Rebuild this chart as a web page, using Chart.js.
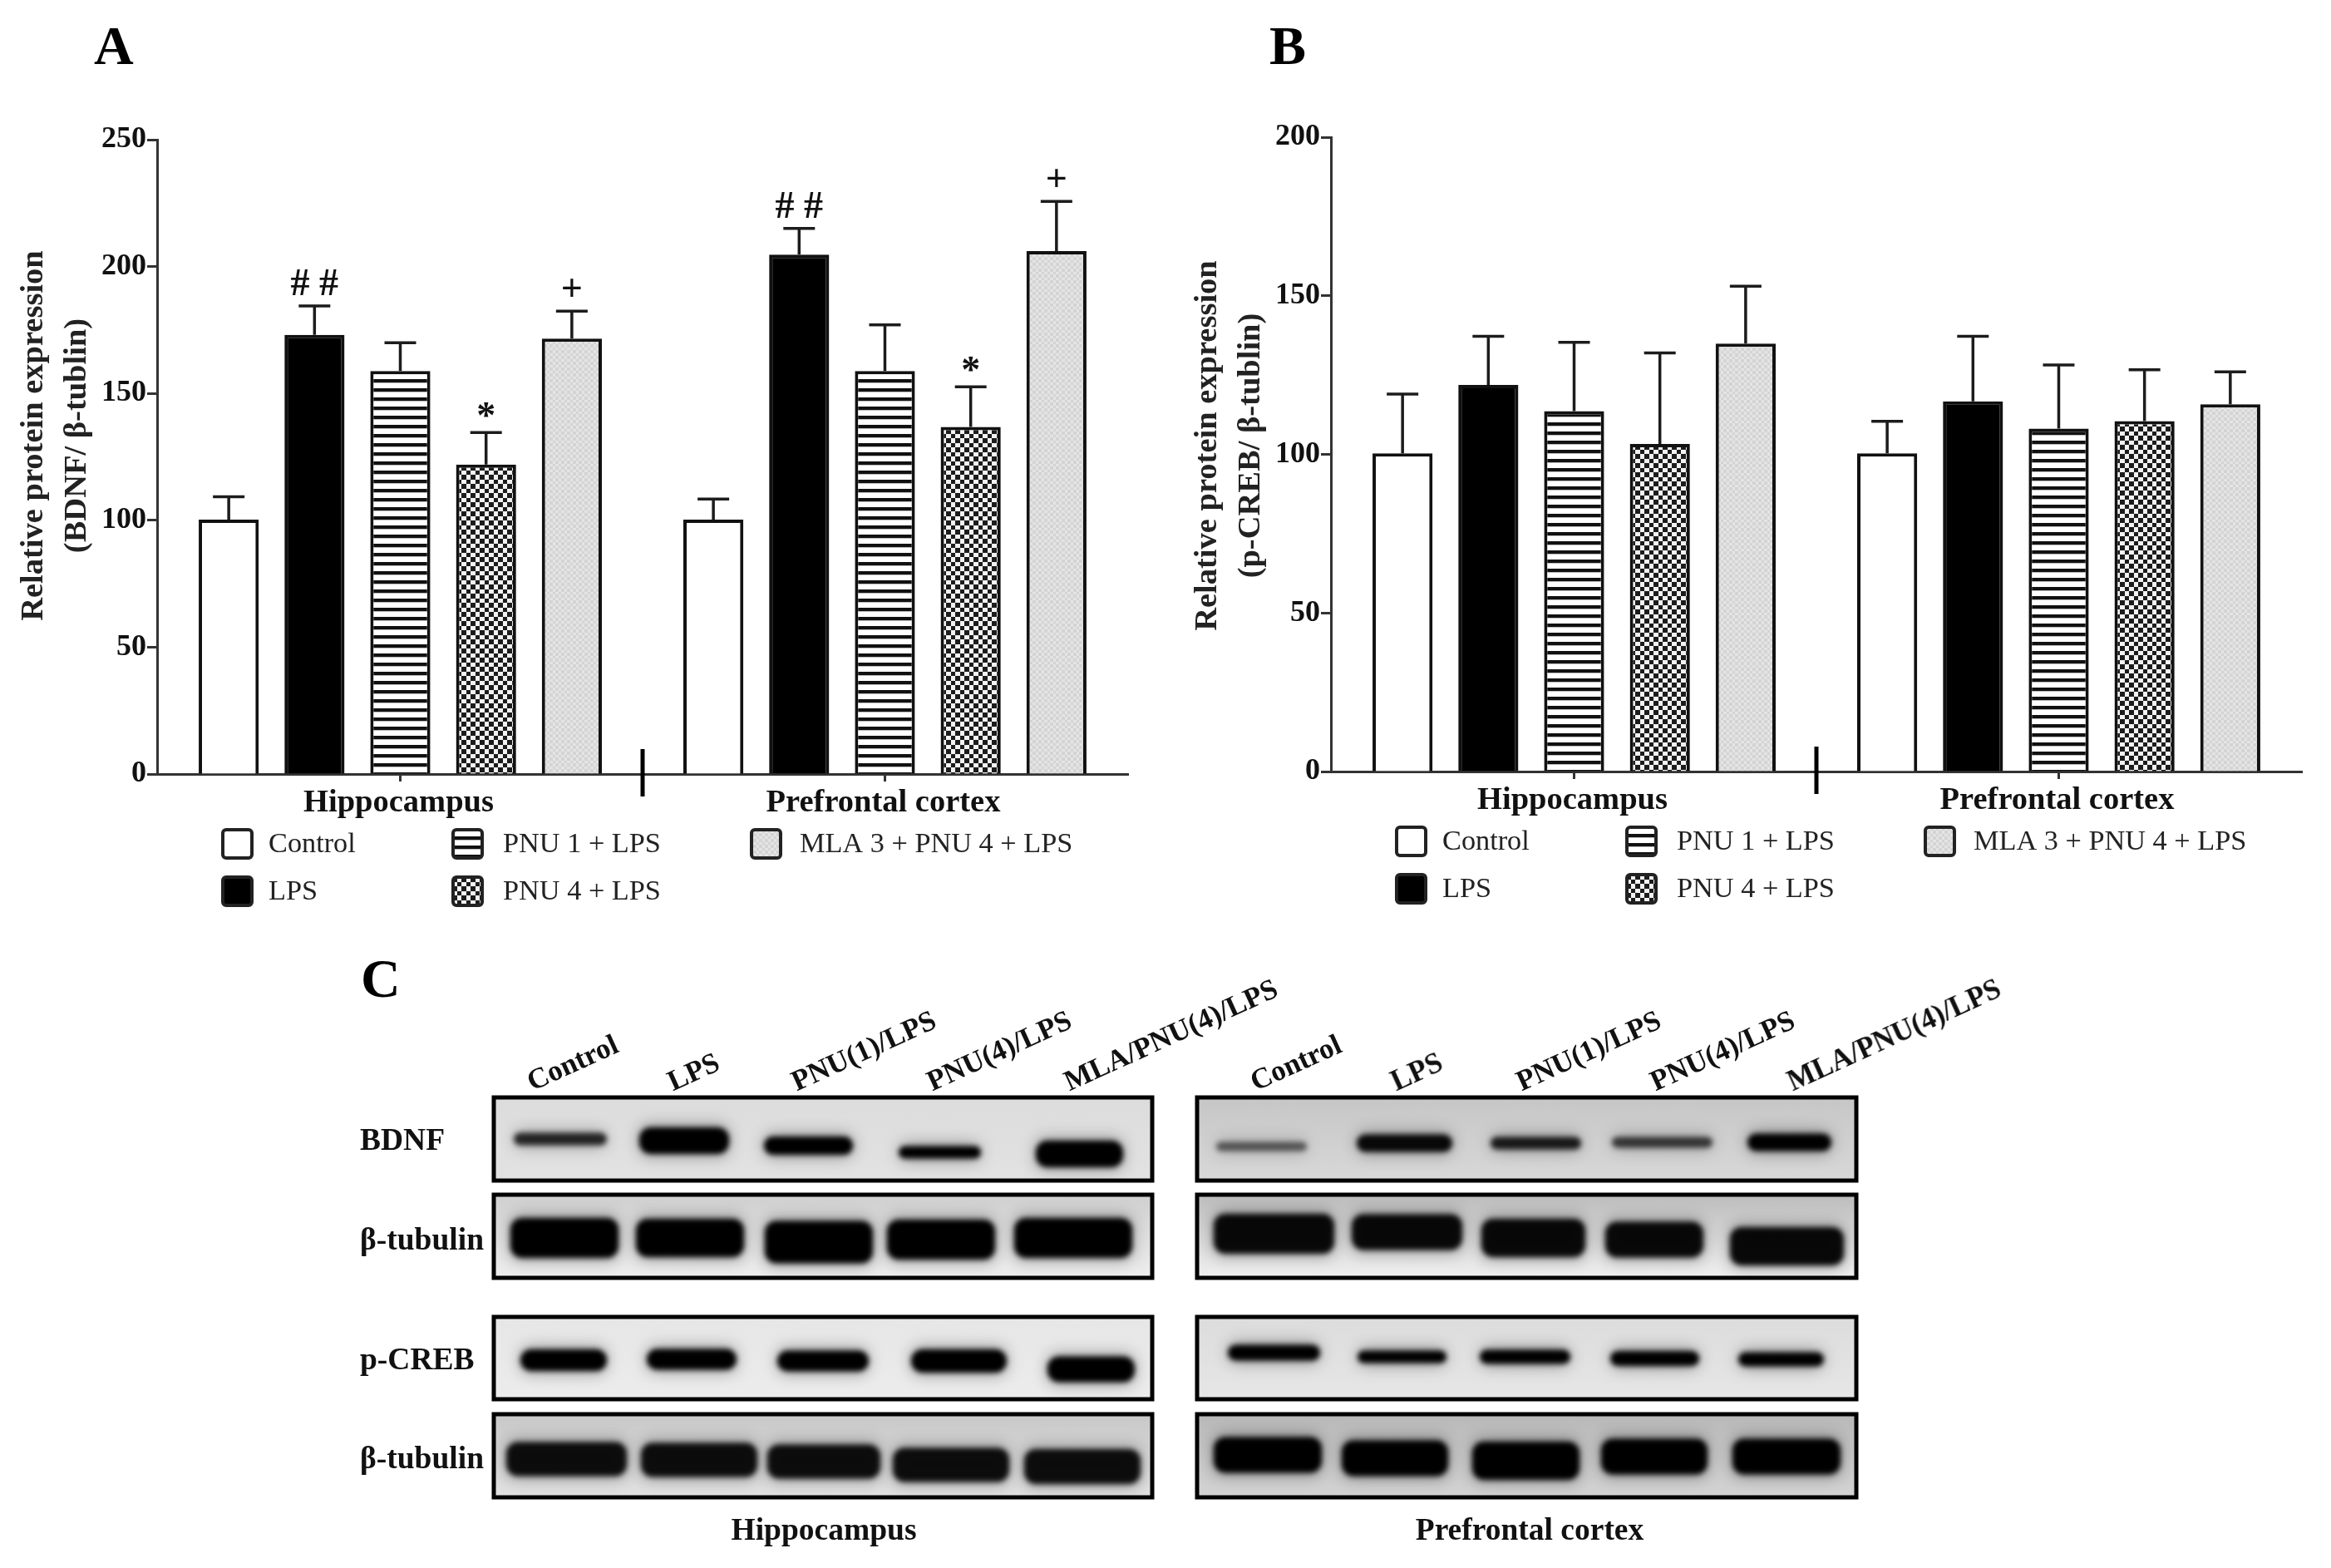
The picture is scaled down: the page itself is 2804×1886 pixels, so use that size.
<!DOCTYPE html>
<html lang="en">
<head>
  <meta charset="UTF-8"/>
  <title>BDNF and p-CREB expression</title>
  <script src="https://cdn.jsdelivr.net/npm/chart.js"></script>
  <style>
    * { box-sizing: border-box; margin: 0; padding: 0; }
    body { background: #fff; }
    #figure {
      position: relative;
      width: 2804px;
      height: 1886px;
      overflow: hidden;
      font-family: 'Liberation Serif', serif;
      font-weight: bold;
      color: #111;
      filter: blur(0.6px);
    }
    #figure canvas { position: absolute; }
    .txt { position: absolute; white-space: nowrap; line-height: 1; }
    .letter { font-size: 66px; color: #000; }
    .row { font-size: 37.5px; transform: translateY(-50%); }
    .col { font-size: 35px; transform-origin: left bottom; transform: rotate(-24.5deg); }
    .tissue { font-size: 37.5px; transform: translate(-50%, -50%); }
  </style>
</head>
<body>
<div id="figure">
  <div id="panelA"><canvas id="chartA" width="1400" height="1120" style="left:0;top:5px;width:1400px;height:1120px"></canvas></div>
  <div id="panelB"><canvas id="chartB" width="1400" height="1120" style="left:1412px;top:2px;width:1400px;height:1120px"></canvas></div>
  <canvas id="blots" width="2804" height="1886" style="left:0;top:0"></canvas>

  <span class="txt letter" style="left:113px;top:22px">A</span>
  <span class="txt letter" style="left:1527px;top:22px">B</span>
  <span class="txt letter" style="left:434px;top:1144px">C</span>

  <span class="txt row" style="left:433px;top:1371px">BDNF</span>
  <span class="txt row" style="left:433px;top:1491px">β-tubulin</span>
  <span class="txt row" style="left:433px;top:1635px">p-CREB</span>
  <span class="txt row" style="left:433px;top:1754px">β-tubulin</span>

  <span class="txt col" style="left:643px;top:1283px">Control</span>
  <span class="txt col" style="left:812px;top:1283px">LPS</span>
  <span class="txt col" style="left:961px;top:1283px">PNU(1)/LPS</span>
  <span class="txt col" style="left:1124px;top:1283px">PNU(4)/LPS</span>
  <span class="txt col" style="left:1289px;top:1283px">MLA/PNU(4)/LPS</span>
  <span class="txt col" style="left:1513px;top:1283px">Control</span>
  <span class="txt col" style="left:1682px;top:1283px">LPS</span>
  <span class="txt col" style="left:1833px;top:1283px">PNU(1)/LPS</span>
  <span class="txt col" style="left:1994px;top:1283px">PNU(4)/LPS</span>
  <span class="txt col" style="left:2159px;top:1283px">MLA/PNU(4)/LPS</span>

  <span class="txt tissue" style="left:991px;top:1840px">Hippocampus</span>
  <span class="txt tissue" style="left:1840px;top:1840px">Prefrontal cortex</span>
</div>

<script>
  // Values
  const treatments = ['Control', 'LPS', 'PNU 1 + LPS', 'PNU 4 + LPS', 'MLA 3 + PNU 4 + LPS'];
  const regions = ['Hippocampus', 'Prefrontal cortex'];

  const bdnfHippo = [100.3, 173.1, 158.8, 122, 171.6];
  const bdnfHippoTop = [109.3, 184.5, 170, 134.6, 182.4];
  const bdnfPfc = [100.3, 204.7, 158.8, 136.8, 206.1];
  const bdnfPfcTop = [108.4, 215, 177, 152.6, 225.7];
  const bdnfHippoMarks = ['', '# #', '', '*', '+'];
  const bdnfPfcMarks = ['', '# #', '', '*', '+'];
  const bdnfTicks = [0, 50, 100, 150, 200, 250];

  const crebHippo = [100.3, 121.9, 113.6, 103.3, 134.9];
  const crebHippoTop = [119, 137.2, 135.3, 132, 153];
  const crebPfc = [100.3, 116.7, 108.1, 110.5, 115.8];
  const crebPfcTop = [110.4, 137.2, 128.2, 126.7, 126];
  const crebTicks = [0, 50, 100, 150, 200];

  const FONT = "'Liberation Serif', serif";
  const INK = '#1c1c1c';
  const GROUP_SHIFT = 5.65;   // second group starts this many slots after the first

  function patternCanvas(w, h, draw) {
    const c = document.createElement('canvas');
    c.width = w; c.height = h;
    draw(c.getContext('2d'));
    return c;
  }

  // Bar fills, in treatment order
  function fills(ctx) {
    const stripes = patternCanvas(1, 11, p => {
      p.fillStyle = '#fff'; p.fillRect(0, 0, 1, 11);
      p.fillStyle = '#bbb'; p.fillRect(0, 4, 1, 1);
      p.fillStyle = '#111'; p.fillRect(0, 0, 1, 4);
    });
    const checks = patternCanvas(11, 11, p => {
      p.fillStyle = '#f2f2f2'; p.fillRect(0, 0, 11, 11);
      p.fillStyle = '#1c1c1c'; p.fillRect(0, 0, 5, 5); p.fillRect(5, 5, 6, 6);
    });
    const greys = patternCanvas(7, 7, p => {
      p.fillStyle = '#e4e4e4'; p.fillRect(0, 0, 7, 7);
      p.fillStyle = '#d4d4d4'; p.fillRect(0, 0, 3, 3); p.fillRect(3, 3, 4, 4);
    });
    return ['#fff', '#000', ctx.createPattern(stripes, 'repeat'), ctx.createPattern(checks, 'repeat'), ctx.createPattern(greys, 'repeat')];
  }

  function makeChart(id, hippo, hippoTop, pfc, pfcTop, ticks, yLines, yTitleCenter, hippoMarks, pfcMarks) {
    const canvas = document.getElementById(id);
    const ctx = canvas.getContext('2d');
    const bg = fills(ctx);

    const datasets = treatments.map((name, i) => ({
      label: name,
      data: [{ x: i + 1, y: hippo[i] }, { x: i + 1 + GROUP_SHIFT, y: pfc[i] }],
      tops: [hippoTop[i], pfcTop[i]],
      marks: [hippoMarks[i], pfcMarks[i]],
      backgroundColor: bg[i],
      borderColor: '#111',
      borderWidth: 4,
      borderSkipped: 'bottom',
      barPercentage: 0.7,
      categoryPercentage: 1,
      grouped: false
    }));

    // error bars, the significance marks and the break in the x axis
    const overlay = {
      id: 'overlay',
      afterDatasetsDraw(chart) {
        const c = chart.ctx, y = chart.scales.y, x = chart.scales.x;
        c.save();
        c.strokeStyle = INK;
        c.lineWidth = 3.5;
        chart.data.datasets.forEach((ds, d) => {
          chart.getDatasetMeta(d).data.forEach((bar, j) => {
            const top = y.getPixelForValue(ds.tops[j]);
            c.beginPath();
            c.moveTo(bar.x, bar.y);
            c.lineTo(bar.x, top);
            c.moveTo(bar.x - 19, top);
            c.lineTo(bar.x + 19, top);
            c.stroke();
            const mark = ds.marks[j];
            if (mark) {
              c.fillStyle = '#111';
              c.textAlign = 'center';
              c.textBaseline = 'alphabetic';
              c.font = 'bold 46px ' + FONT;
              const lift = mark === '*' ? 5 : mark === '+' ? 12 : 13;
              c.fillText(mark, bar.x, top - lift);
            }
          });
        });
        const bx = x.getPixelForValue(5 + (GROUP_SHIFT - 4) / 2);
        c.lineWidth = 5;
        c.strokeStyle = '#000';
        c.beginPath();
        c.moveTo(bx, chart.chartArea.bottom - 30);
        c.lineTo(bx, chart.chartArea.bottom + 27);
        c.stroke();
        c.restore();
      },
      afterDraw(chart) {
        const c = chart.ctx, area = chart.chartArea;
        c.save();
        // y axis title, two rotated lines
        c.fillStyle = '#222';
        c.font = 'bold 38.5px ' + FONT;
        c.textAlign = 'center';
        c.textBaseline = 'middle';
        yLines.forEach((line, i) => {
          c.save();
          c.translate(41 + i * 52, yTitleCenter);
          c.rotate(-Math.PI / 2);
          c.fillText(line, 0, 0);
          c.restore();
        });
        // legend in the three columns of the figure
        const cols = [[79, 134], [79, 134], [356, 416], [356, 416], [715, 773]];
        const rows = [67, 124, 67, 124, 67];
        c.font = '34.3px ' + FONT;
        c.textAlign = 'left';
        treatments.forEach((name, i) => {
          const sx = area.left + cols[i][0], sy = area.bottom + rows[i];
          c.beginPath();
          c.roundRect(sx, sy, 35, 34, 4);
          c.fillStyle = bg[i];
          c.fill();
          c.lineWidth = 4;
          c.strokeStyle = '#222';
          c.stroke();
          c.fillStyle = '#222';
          c.fillText(name, area.left + cols[i][1], sy + 18);
        });
        c.restore();
      }
    };

    return new Chart(ctx, {
      type: 'bar',
      data: { datasets },
      plugins: [overlay],
      options: {
        responsive: false,
        animation: false,
        devicePixelRatio: 1,
        layout: { padding: { top: 163, right: 43, bottom: 130, left: 0 } },
        plugins: { legend: { display: false }, tooltip: { enabled: false } },
        scales: {
          x: {
            type: 'linear',
            offset: false,
            min: 1 - 0.835,
            max: 5 + GROUP_SHIFT + 0.835,
            afterBuildTicks: s => { s.ticks = [{ value: 3 }, { value: 3 + GROUP_SHIFT }]; },
            afterFit: s => { s.height = 64; },
            ticks: {
              autoSkip: false,
              maxRotation: 0,
              padding: 3,
              labelOffset: -2,
              color: '#111',
              font: { family: FONT, size: 38.5, weight: 'bold' },
              callback: (v, i) => regions[i]
            },
            grid: { offset: false, drawOnChartArea: false, drawTicks: true, tickLength: 9, tickWidth: 3, color: '#333' },
            border: { display: true, width: 3, color: '#333' }
          },
          y: {
            min: ticks[0],
            max: ticks[ticks.length - 1],
            afterBuildTicks: s => { s.ticks = ticks.map(v => ({ value: v })); },
            afterFit: s => { s.width = 189; },
            ticks: {
              padding: 1,
              color: '#111',
              font: { family: FONT, size: 36, weight: 'bold' }
            },
            grid: { drawOnChartArea: false, drawTicks: true, tickLength: 12, tickWidth: 3, color: '#333' },
            border: { display: true, width: 3, color: '#333' }
          }
        }
      }
    });
  }

  makeChart('chartA', bdnfHippo, bdnfHippoTop, bdnfPfc, bdnfPfcTop, bdnfTicks,
    ['Relative protein expression', '(BDNF/ β-tublin)'], 519, bdnfHippoMarks, bdnfPfcMarks);
  makeChart('chartB', crebHippo, crebHippoTop, crebPfc, crebPfcTop, crebTicks,
    ['Relative protein expression', '(p-CREB/ β-tublin)'], 534, ['', '', '', '', ''], ['', '', '', '', '']);

  // Panel C is a photograph of western blots, not a plot: soft bands on grey strips
  // band = [left, right, centre y, height, opacity], relative to its strip
  const stripRows = [[1320, 100], [1437, 100], [1584, 99], [1701, 100]];
  const stripCols = [[594, 792], [1440, 793]];
  const stripTones = [
    [['#dcdcdc', '#e2e2e2'], ['#cfcfcf', '#eeeeee'], ['#e6e6e6', '#ececec'], ['#c8c8c8', '#e2e2e2']],
    [['#c6c6c6', '#d8d8d8'], ['#bcbcbc', '#f0f0f0'], ['#dcdcdc', '#e6e6e6'], ['#b8b8b8', '#d4d4d4']]
  ];
  const stripBands = [
    [
      [[24, 136, 50, 15, 0.8], [175, 283, 52, 32, 1], [325, 432, 58, 22, 1], [487, 586, 66, 15, 1], [652, 757, 68, 32, 1]],
      [[20, 150, 52, 48, 1], [171, 301, 52, 46, 1], [326, 456, 57, 51, 1], [473, 603, 54, 48, 1], [626, 768, 52, 48, 1]],
      [[32, 136, 52, 26, 1], [184, 292, 51, 25, 1], [341, 451, 53, 25, 1], [502, 617, 53, 28, 1], [666, 771, 63, 31, 1]],
      [[15, 160, 54, 41, 0.92], [177, 317, 55, 41, 0.92], [329, 465, 57, 41, 0.92], [480, 620, 61, 41, 0.92], [638, 778, 63, 42, 0.92]]
    ],
    [
      [[23, 132, 59, 11, 0.55], [192, 307, 55, 21, 0.95], [353, 462, 55, 15, 0.85], [499, 620, 54, 13, 0.7], [662, 763, 54, 21, 1]],
      [[20, 165, 47, 48, 0.95], [186, 319, 45, 43, 0.95], [342, 467, 52, 46, 0.95], [491, 609, 54, 43, 0.95], [641, 778, 62, 46, 0.95]],
      [[37, 148, 43, 19, 1], [193, 300, 48, 15, 1], [340, 449, 48, 17, 1], [497, 604, 50, 18, 1], [651, 754, 51, 17, 1]],
      [[20, 150, 49, 43, 1], [174, 302, 53, 43, 1], [331, 460, 56, 46, 1], [486, 614, 51, 43, 1], [644, 774, 51, 43, 1]]
    ]
  ];

  function drawBlots() {
    const c = document.getElementById('blots').getContext('2d');
    stripCols.forEach(([left, width], col) => {
      stripRows.forEach(([top, height], row) => {
        c.save();
        c.beginPath();
        c.rect(left, top, width, height);
        c.clip();
        const g = c.createLinearGradient(0, top, 0, top + height);
        g.addColorStop(0, stripTones[col][row][0]);
        g.addColorStop(1, stripTones[col][row][1]);
        c.fillStyle = g;
        c.fillRect(left, top, width, height);
        stripBands[col][row].forEach(([x0, x1, yc, h, alpha]) => {
          // wide halo first, then the dark core
          c.filter = 'blur(9px)';
          c.globalAlpha = 0.35 * alpha;
          c.fillStyle = '#000';
          c.beginPath();
          c.roundRect(left + x0, top + yc - h / 2 - 3, x1 - x0, h + 6, 12);
          c.fill();
          c.filter = 'blur(3px)';
          c.globalAlpha = alpha;
          c.beginPath();
          c.roundRect(left + x0, top + yc - h / 2, x1 - x0, h, Math.min(h / 2, 14));
          c.fill();
        });
        c.restore();
        c.strokeStyle = '#000';
        c.lineWidth = 5;
        c.strokeRect(left, top, width, height);
      });
    });
  }
  drawBlots();
</script>
</body>
</html>
